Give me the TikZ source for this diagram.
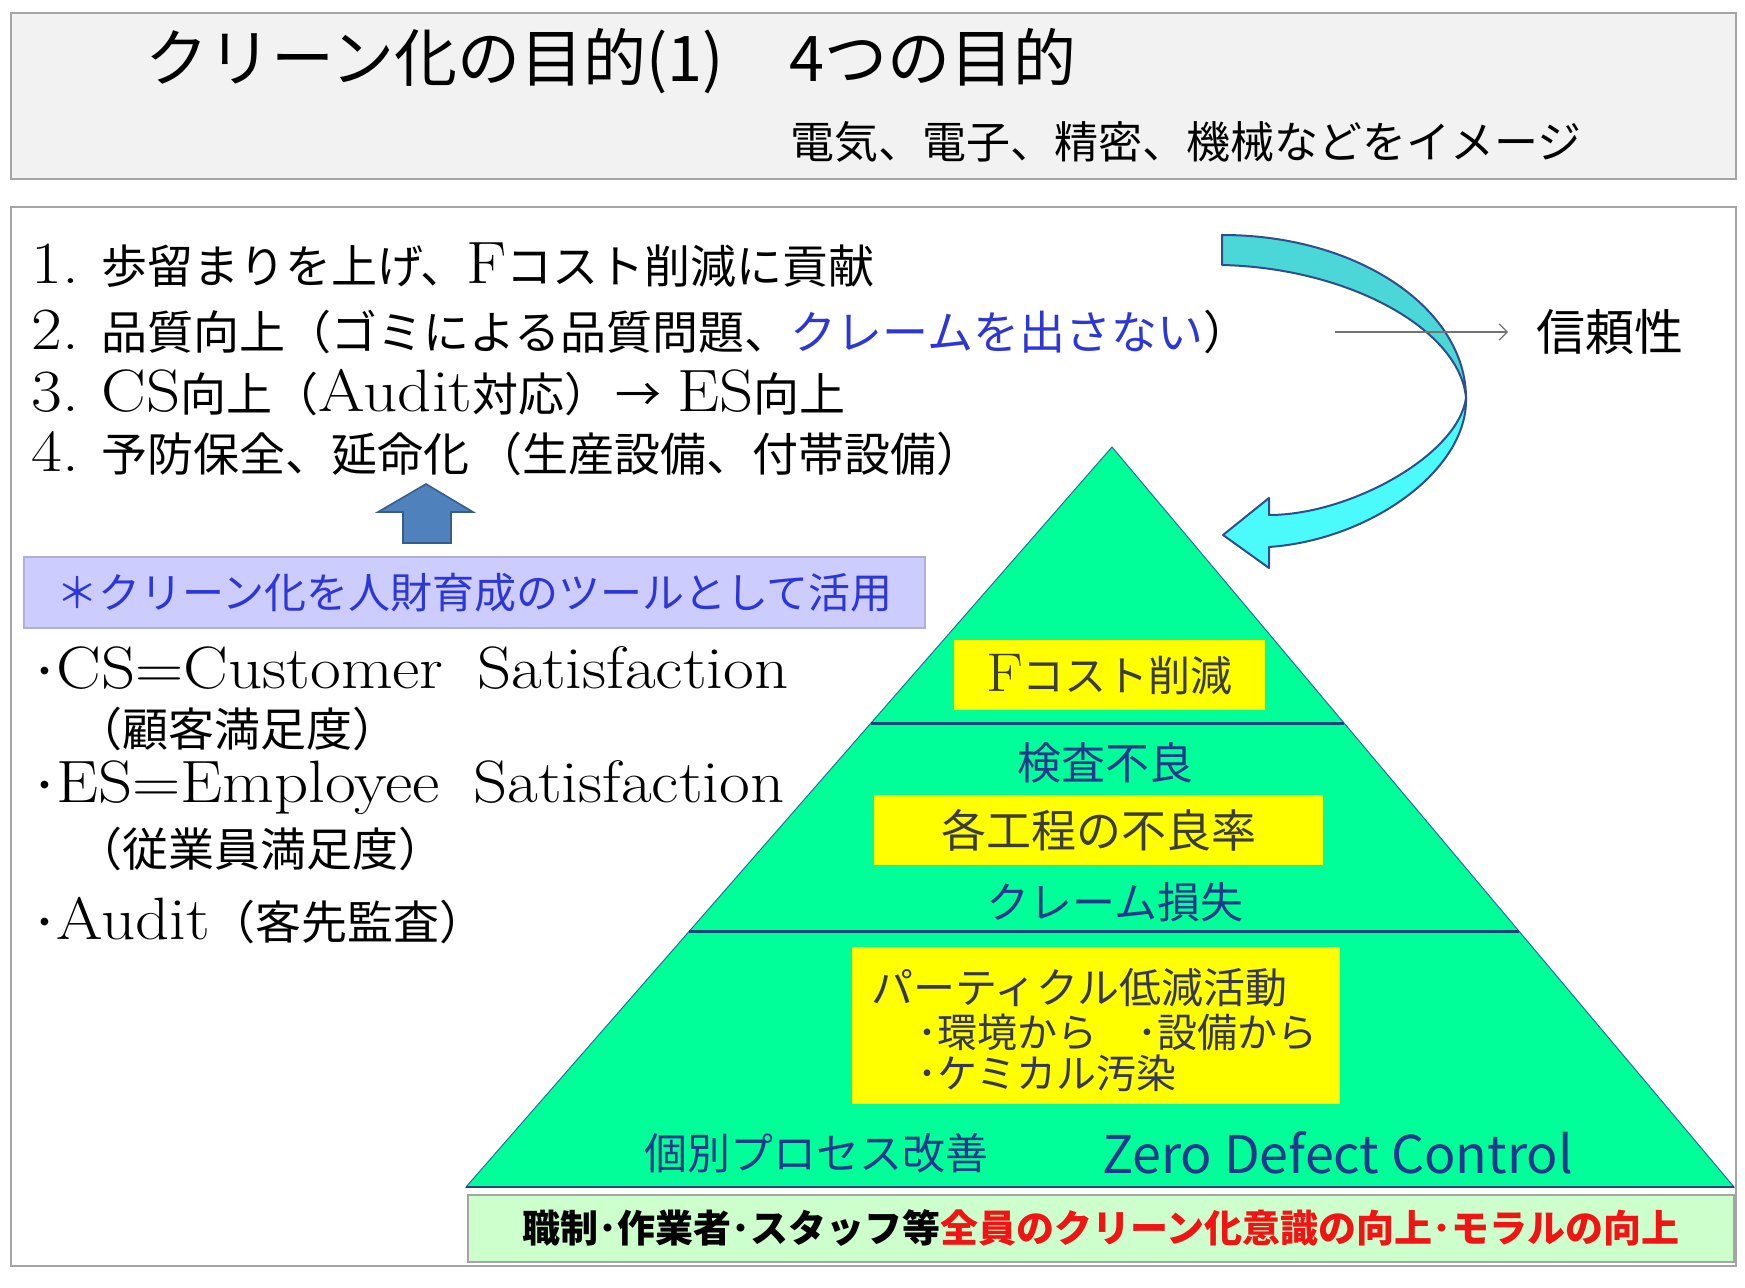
\documentclass[tikz,border=0pt]{standalone}
\usepackage{graphicx}
\usepackage{fontspec}
\newfontfamily\jp{Noto Sans CJK JP}
\usetikzlibrary{calc,arrows.meta}
\makeatletter
\newdimen\latdim
\newcommand\lat[1]{\scalebox{1.12}[1]{\latdim=\f@size pt\latdim=1.3\latdim\rmfamily\fontsize{\strip@pt\latdim}{\strip@pt\latdim}\selectfont #1}}
\makeatother
\definecolor{titlegray}{RGB}{242,242,242}
\definecolor{framegray}{RGB}{165,165,165}
\definecolor{lav}{RGB}{204,204,255}
\definecolor{lavborder}{RGB}{175,175,220}
\definecolor{bluetxt}{RGB}{45,55,215}
\definecolor{arrowblue}{RGB}{79,129,189}
\definecolor{arrowblueb}{RGB}{56,93,138}
\definecolor{pgreen}{RGB}{0,255,153}
\definecolor{pedge}{RGB}{40,110,160}
\definecolor{divline}{RGB}{25,70,120}
\definecolor{yel}{RGB}{255,255,0}
\definecolor{navytxt}{RGB}{35,55,140}
\definecolor{darktxt}{RGB}{60,60,60}
\definecolor{slatetxt}{RGB}{55,55,85}
\definecolor{ltgreen}{RGB}{204,255,204}
\definecolor{redtxt}{RGB}{240,20,20}
\definecolor{turq}{RGB}{75,215,215}
\definecolor{cyanl}{RGB}{75,250,250}
\definecolor{arrline}{RGB}{45,80,140}
\tikzset{
  txt/.style={inner sep=0pt, anchor=west},
  ctxt/.style={inner sep=0pt},
  panel/.style={draw=framegray, line width=1.2pt, inner sep=0pt},
  ybox/.style={fill=yel, inner sep=0pt},
  listfont/.style={font=\jp\fontsize{23}{28}\selectfont},
}
\begin{document}
\begin{tikzpicture}[x=0.5pt,y=-0.5pt]
\useasboundingbox (0,0) rectangle (1745,1288);
\fill[white] (0,0) rectangle (1745,1288);

% title panel
\node[panel, fill=titlegray, minimum width=862.5pt, minimum height=83pt] (titlebox) at (873.5,96) {};
\node[txt, font=\jp\fontsize{31.5}{36}\selectfont] (title) at (145,61) {クリーン化の目的(1)\hspace{1.05em}4つの目的};
\node[txt, font=\jp\fontsize{22}{26}\selectfont] (subtitle) at (790,142) {電気、電子、精密、機械などをイメージ};

% main panel
\node[panel, fill=white, minimum width=862.5pt, minimum height=529.5pt] (mainbox) at (873.5,736.5) {};

% list of purposes
\node[txt, listfont] (l1) at (31,265) {\lat{1.}\hspace{0.5em}歩留まりを上げ、\lat{F}コスト削減に貢献};
\node[txt, listfont] (l2) at (31,332) {\lat{2.}\hspace{0.5em}品質向上（ゴミによる品質問題、\textcolor{bluetxt}{クレームを出さない}）};
\node[txt, listfont] (l3) at (31,393) {\lat{3.}\hspace{0.5em}\lat{CS}向上（\lat{Audit}対応）\hspace{0.1em}→\hspace{0.35em}\lat{ES}向上};
\node[txt, listfont] (l4) at (31,454) {\lat{4.}\hspace{0.5em}予防保全、延命化\hspace{0.15em}（生産設備、付帯設備）};

% reliability
\node[txt, font=\jp\fontsize{24.5}{28}\selectfont] (rel) at (1536,332) {信頼性};

% lavender box
\node[draw=lavborder, fill=lav, line width=0.8pt, minimum width=450.5pt, minimum height=35.5pt, inner sep=0pt,
      font=\jp\fontsize{21}{25}\selectfont, text=bluetxt] (tool) at (474.5,592.5) {＊クリーン化を人財育成のツールとして活用};

% blue up arrow
\filldraw[fill=arrowblue, draw=arrowblueb, line width=0.8pt]
  (403,543) -- (403,512) -- (378,512) -- (426,484) -- (473,512) -- (451,512) -- (451,543) -- cycle;

% definitions
\node[txt, listfont] (cs) at (33,668) {･\lat{CS=Customer\hspace{0.5em}Satisfaction}};
\node[txt, listfont] (csj) at (76,729) {（顧客満足度）};
\node[txt, listfont] (es) at (33,788) {･\lat{ES=Employee\hspace{0.5em}Satisfaction}};
\node[txt, listfont] (esj) at (76,849) {（従業員満足度）};
\node[txt, listfont] (au) at (33,921) {･\lat{Audit}（客先監査）};

% pyramid
\coordinate (apex) at (1112,447);
\coordinate (bl) at (466,1187);
\coordinate (br) at (1734,1187);
\filldraw[fill=pgreen, draw=pedge, line width=0.5pt] (apex) -- (bl) -- (br) -- cycle;
\draw[divline, line width=1.3pt] (bl) -- (br);
\draw[divline, line width=1.3pt] ($(apex)!0.3735!(bl)$) -- ($(apex)!0.3735!(br)$);
\draw[divline, line width=1.3pt] ($(apex)!0.6549!(bl)$) -- ($(apex)!0.6549!(br)$);

\node[ybox, minimum width=155.5pt, minimum height=35pt, font=\jp\fontsize{21}{25}\selectfont, text=darktxt] (fcost) at (1109.5,675) {\lat{F}コスト削減};
\node[ctxt, font=\jp\fontsize{22}{26}\selectfont, text=navytxt] (kensa) at (1105,763) {検査不良};
\node[ybox, minimum width=224.5pt, minimum height=35pt, font=\jp\fontsize{22.5}{26}\selectfont, text=darktxt] (kotei) at (1098.5,830) {各工程の不良率};
\node[ctxt, font=\jp\fontsize{21.5}{26}\selectfont, text=navytxt] (claim) at (1115,902) {クレーム損失};

\node[ybox, minimum width=244pt, minimum height=78.5pt] (partbox) at (1096,1025.5) {};
\node[txt, font=\jp\fontsize{21}{25}\selectfont, text=slatetxt] (part1) at (871,988) {パーティクル低減活動};
\node[txt, font=\jp\fontsize{20}{24}\selectfont, text=slatetxt] (part2) at (917,1032) {･環境から　･設備から};
\node[txt, font=\jp\fontsize{20}{24}\selectfont, text=slatetxt] (part3) at (917,1073) {･ケミカル汚染};

\node[txt, font=\jp\fontsize{21.5}{26}\selectfont, text=navytxt] (kobetsu) at (644,1153) {個別プロセス改善};
\node[txt, font=\jp\fontsize{26}{30}\selectfont, text=navytxt] (zdc) at (1102,1153) {Zero Defect Control};

% base box
\node[draw=framegray, fill=ltgreen, line width=1pt, minimum width=633pt, minimum height=33.5pt, inner sep=0pt,
      font=\jp\bfseries\fontsize{19}{22}\selectfont] (base) at (1101,1228.5)
  {職制･作業者･スタッフ等\textcolor{redtxt}{全員のクリーン化意識の向上･モラルの向上}};

% curved block arrow
\filldraw[fill=turq, draw=arrline, line width=1pt, line join=round]
  (1222,235) .. controls (1360,235) and (1466,310) .. (1466,398)
  .. controls (1460,330) and (1350,268) .. (1222,265) -- cycle;
\filldraw[fill=cyanl, draw=arrline, line width=1pt, line join=round]
  (1466,398) .. controls (1468,470) and (1370,540) .. (1269,547)
  -- (1269,568) -- (1223,535) -- (1269,498) -- (1269,515)
  .. controls (1350,515) and (1458,455) .. (1466,398) -- cycle;

% thin arrow to reliability
\coordinate (relstart) at (1335,332);
\draw[black!55, line width=0.6pt, -{Straight Barb[length=4pt,width=8pt]}, shorten >=14pt] (relstart) -- (rel.west);
\end{tikzpicture}
\end{document}
